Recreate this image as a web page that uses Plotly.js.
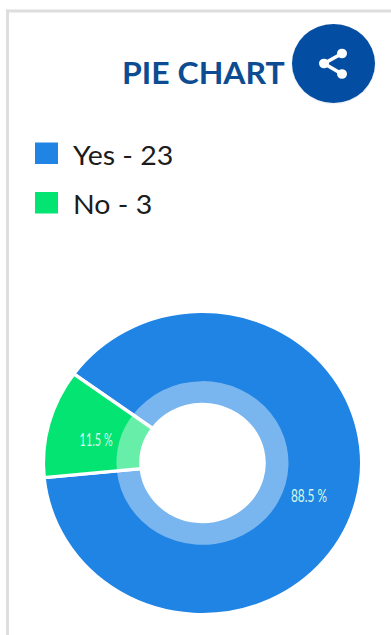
<!DOCTYPE html>
<html>
<head>
<meta charset="utf-8">
<script src="https://cdn.plot.ly/plotly-3.0.1.min.js"></script>
<style>
  html, body { margin: 0; padding: 0; background: #fff; overflow: hidden; width: 391px; height: 635px; }
  /* The card is laid out 5% taller and flattened, giving the oval donut and button */
  #chart { width: 391px; height: 667px; transform: scaleY(0.952); transform-origin: top left; }
</style>
</head>
<body>
<div id="chart"></div>
<script>
const categories = ['Yes', 'No'];
const answerCounts = [23, 3];
const sliceColors = ['#2084e4', '#03e472'];
const chartTitle = 'PIE CHART';

const W = 391, H = 635, PLOT_H = 667;
const px = x => x / W;
const py = y => 1 - y / H;

const total = answerCounts.reduce((a, b) => a + b, 0);
const percentLabels = answerCounts.map(v => (v / total * 100).toFixed(1) + ' %');

const cx = 202.5, cy = 463, rOuter = 159.2, rRing = 86, rHole = 61.5;
const startAngle = -54;

const donutDomain = r => ({
  x: [(cx - r) / W, (cx + r) / W],
  y: [py(cy) - r / PLOT_H, py(cy) + r / PLOT_H]
});

const traces = [
  {
    type: 'pie',
    labels: categories,
    values: answerCounts,
    sort: false,
    direction: 'clockwise',
    rotation: startAngle,
    hole: rHole / rOuter,
    domain: donutDomain(rOuter),
    marker: { colors: sliceColors, line: { color: '#ffffff', width: 3.5 } },
    text: percentLabels,
    textinfo: 'text',
    textposition: 'inside',
    insidetextorientation: 'horizontal',
    insidetextfont: { family: 'Lato, "Open Sans", sans-serif', size: 19, color: '#d8f7e6' },
    hoverinfo: 'none',
    showlegend: false
  },
  {
    // Pale band around the hole
    type: 'pie',
    labels: categories,
    values: answerCounts,
    sort: false,
    direction: 'clockwise',
    rotation: startAngle,
    hole: rHole / rRing,
    domain: donutDomain(rRing),
    marker: {
      colors: ['rgba(255,255,255,0.4)', 'rgba(255,255,255,0.4)'],
      line: { color: 'rgba(255,255,255,0)', width: 0 }
    },
    textinfo: 'none',
    hoverinfo: 'none',
    showlegend: false
  }
];

const rect = (x0, y0, x1, y1, color) => ({
  type: 'rect', xref: 'paper', yref: 'paper', layer: 'above',
  x0: px(x0), x1: px(x1), y0: py(y0), y1: py(y1),
  fillcolor: color, line: { width: 0 }
});
const disc = (x, y, rx, ry, color) => ({
  type: 'circle', xref: 'paper', yref: 'paper', layer: 'above',
  x0: px(x - rx), x1: px(x + rx), y0: py(y + ry), y1: py(y - ry),
  fillcolor: color, line: { width: 0 }
});
const stroke = (x0, y0, x1, y1, color, width) => ({
  type: 'line', xref: 'paper', yref: 'paper', layer: 'above',
  x0: px(x0), x1: px(x1), y0: py(y0), y1: py(y1),
  line: { color: color, width: width }
});

// Card border
const cardShapes = [
  rect(6, 9.5, 391, 12.5, '#dedede'),
  rect(6, 9.5, 9, 635, '#dedede')
];

// Round share button with its three-node glyph
const shareShapes = [
  disc(333.5, 64, 42.2, 40.2, 'rgba(0,40,90,0.06)'),
  disc(333.5, 63.5, 41.5, 39.5, '#034ea2'),
  stroke(342, 53.5, 324, 63.5, '#ffffff', 3.5),
  stroke(324, 63.5, 342, 74, '#ffffff', 3.5),
  disc(342, 53.5, 5, 4.8, '#ffffff'),
  disc(324, 63.5, 5, 4.8, '#ffffff'),
  disc(342, 74, 5, 4.8, '#ffffff')
];

// Key entries sit in a column under the title
const keyRows = [153.5, 203];
const keyShapes = categories.map((c, i) =>
  rect(35, keyRows[i] - 11, 58, keyRows[i] + 10.5, sliceColors[i]));
const keyLabels = categories.map((c, i) => ({
  xref: 'paper', yref: 'paper', x: px(71), y: py(keyRows[i] + 1),
  xanchor: 'left', yanchor: 'middle', showarrow: false,
  text: c + ' - ' + answerCounts[i],
  font: { family: 'Lato, "Noto Sans", sans-serif', size: 28.5, color: '#1c1c1c' }
}));

const titleAnnotation = {
  xref: 'paper', yref: 'paper', x: px(203), y: py(72),
  xanchor: 'center', yanchor: 'middle', showarrow: false,
  text: '<b>' + chartTitle + '</b>',
  font: { family: 'Lato, "Noto Sans", sans-serif', size: 32, color: '#0d4c92' }
};

const layout = {
  width: W,
  height: PLOT_H,
  margin: { l: 0, r: 0, t: 0, b: 0 },
  paper_bgcolor: '#ffffff',
  plot_bgcolor: '#ffffff',
  showlegend: false,
  shapes: cardShapes.concat(shareShapes, keyShapes),
  annotations: [titleAnnotation].concat(keyLabels)
};

// Slice labels use a condensed setting and sit slightly off the band centre
const sliceLabelWidth = [36, 33];
const sliceLabelShift = [[0, 5], [7, 6]];

Plotly.newPlot('chart', traces, layout, { displayModeBar: false, staticPlot: true }).then(gd => {
  gd.querySelectorAll('.slicetext text').forEach(el => {
    const i = percentLabels.indexOf(el.textContent.trim());
    if (i < 0) return;
    el.setAttribute('textLength', sliceLabelWidth[i]);
    el.setAttribute('lengthAdjust', 'spacingAndGlyphs');
    const t = el.getAttribute('transform') || '';
    el.setAttribute('transform', `translate(${sliceLabelShift[i][0]},${sliceLabelShift[i][1]}) ${t}`);
  });
});
</script>
</body>
</html>
